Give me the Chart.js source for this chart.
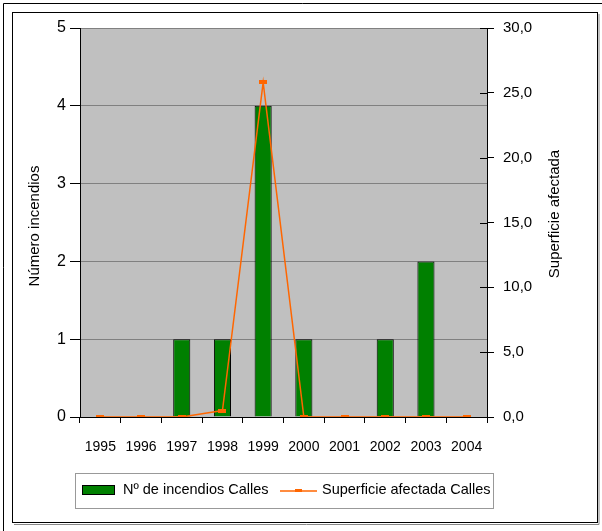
<!DOCTYPE html>
<html>
<head>
<meta charset="utf-8">
<script src="https://cdn.jsdelivr.net/npm/chart.js@4.4.0/dist/chart.umd.min.js"></script>
<style>
  html, body { margin: 0; padding: 0; background: #fff; }
  #wrap { position: relative; width: 602px; height: 531px; }
</style>
</head>
<body>
<div id="wrap"><canvas id="grafico" width="602" height="531"></canvas></div>
<script>
const years = ['1995', '1996', '1997', '1998', '1999', '2000', '2001', '2002', '2003', '2004'];
const incendios = [0, 0, 1, 1, 4, 1, 0, 1, 2, 0];
const superficie = [0, 0, 0, 0.5, 25.8, 0, 0, 0, 0, 0];
const labelBarras = 'Nº de incendios Calles';
const labelLinea = 'Superficie afectada Calles';
const tituloIzq = 'Número incendios';
const tituloDer = 'Superficie afectada';

const FONT = "'Liberation Sans', Arial, sans-serif";
const NARANJA = '#FF6600';
const VERDE = '#008000';

// marcador pequeño rectangular de la serie de línea
const marca = document.createElement('canvas');
marca.width = 8; marca.height = 4;
const mctx = marca.getContext('2d');
mctx.fillStyle = NARANJA;
mctx.fillRect(0, 0, 8, 4);

const fondoYMarcos = {
    id: 'fondoYMarcos',
    beforeDraw(chart) {
        const {ctx, chartArea: a} = chart;
        ctx.save();
        ctx.fillStyle = '#C0C0C0';
        ctx.fillRect(a.left, a.top, a.right - a.left, a.bottom - a.top);
        ctx.restore();
    },
    afterDraw(chart) {
        const {ctx, chartArea: a} = chart;
        ctx.save();
        // marcos
        ctx.strokeStyle = '#000';
        ctx.lineWidth = 1;
        ctx.beginPath();
        ctx.moveTo(3.5, 531); ctx.lineTo(3.5, 3.5); ctx.lineTo(602, 3.5);
        ctx.stroke();
        ctx.strokeRect(12.5, 12.5, 585, 510);
        ctx.strokeStyle = '#888';
        ctx.beginPath();
        ctx.moveTo(599, 14); ctx.lineTo(599, 524.5); ctx.lineTo(14, 524.5);
        ctx.stroke();

        // marcas interiores del eje derecho
        const y1 = chart.scales.y1;
        ctx.strokeStyle = '#000';
        ctx.beginPath();
        y1.ticks.forEach(t => {
            const py = Math.round(y1.getPixelForValue(t.value)) + 0.5;
            ctx.moveTo(a.right - 7, py); ctx.lineTo(a.right, py);
        });
        ctx.stroke();

        // títulos de ejes
        ctx.fillStyle = '#000';
        ctx.font = '15px ' + FONT;
        ctx.textAlign = 'center';
        ctx.textBaseline = 'middle';
        ctx.save();
        ctx.translate(35, 226);
        ctx.rotate(-Math.PI / 2);
        ctx.fillText(tituloIzq, 0, 0);
        ctx.restore();
        ctx.save();
        ctx.translate(555, 214);
        ctx.rotate(-Math.PI / 2);
        ctx.fillText(tituloDer, 0, 0);
        ctx.restore();

        // leyenda
        const ds = chart.data.datasets;
        ctx.font = '14.5px ' + FONT;
        ctx.lineWidth = 1;
        ctx.strokeStyle = '#999';
        ctx.strokeRect(75.5, 473.5, 418, 35);
        ctx.fillStyle = ds[0].backgroundColor;
        ctx.fillRect(82, 485, 33, 10);
        ctx.strokeStyle = '#000';
        ctx.strokeRect(82.5, 485.5, 32, 9);
        ctx.fillStyle = '#000';
        ctx.textAlign = 'left';
        ctx.fillText(ds[0].label, 123, 490);
        ctx.strokeStyle = ds[1].borderColor;
        ctx.lineWidth = 1.5;
        ctx.beginPath();
        ctx.moveTo(280, 491); ctx.lineTo(317, 491);
        ctx.stroke();
        ctx.fillStyle = NARANJA;
        ctx.fillRect(295, 489, 7, 3);
        ctx.fillStyle = '#000';
        ctx.fillText(ds[1].label, 322, 490);
        ctx.restore();
    }
};

const ctx = document.getElementById('grafico').getContext('2d');
new Chart(ctx, {
    type: 'bar',
    data: {
        labels: years,
        datasets: [{
            type: 'bar',
            label: labelBarras,
            data: incendios,
            yAxisID: 'y',
            backgroundColor: VERDE,
            borderColor: '#000',
            borderWidth: 1,
            barPercentage: 0.42,
            categoryPercentage: 1,
            order: 1
        }, {
            type: 'line',
            label: labelLinea,
            data: superficie,
            yAxisID: 'y1',
            borderColor: NARANJA,
            backgroundColor: NARANJA,
            borderWidth: 1.5,
            tension: 0,
            pointStyle: marca,
            pointRadius: 4,
            order: 0
        }]
    },
    options: {
        responsive: false,
        animation: false,
        layout: { padding: { top: 28, left: 0, right: 0, bottom: 74 } },
        plugins: {
            legend: { display: false },
            tooltip: { enabled: false }
        },
        scales: {
            x: {
                afterFit: s => { s.height = 40; },
                grid: { offset: true, drawOnChartArea: false, tickLength: 6, tickColor: '#000' },
                border: { color: '#000' },
                ticks: { color: '#000', font: { family: FONT, size: 14 }, padding: 16, maxRotation: 0 }
            },
            y: {
                position: 'left',
                min: 0, max: 5,
                afterFit: s => { s.width = 80; },
                grid: { color: '#808080', tickColor: '#000', tickLength: 10 },
                border: { color: '#000' },
                ticks: { stepSize: 1, color: '#000', font: { family: FONT, size: 16 }, padding: 4 }
            },
            y1: {
                position: 'right',
                min: 0, max: 30,
                afterFit: s => { s.width = 115; },
                grid: { drawOnChartArea: false, tickColor: '#000', tickLength: 7 },
                border: { color: '#000' },
                ticks: {
                    stepSize: 5, color: '#000', font: { family: FONT, size: 15 }, padding: 9,
                    callback: v => v.toFixed(1).replace('.', ',')
                }
            }
        }
    },
    plugins: [fondoYMarcos]
});
</script>
</body>
</html>
